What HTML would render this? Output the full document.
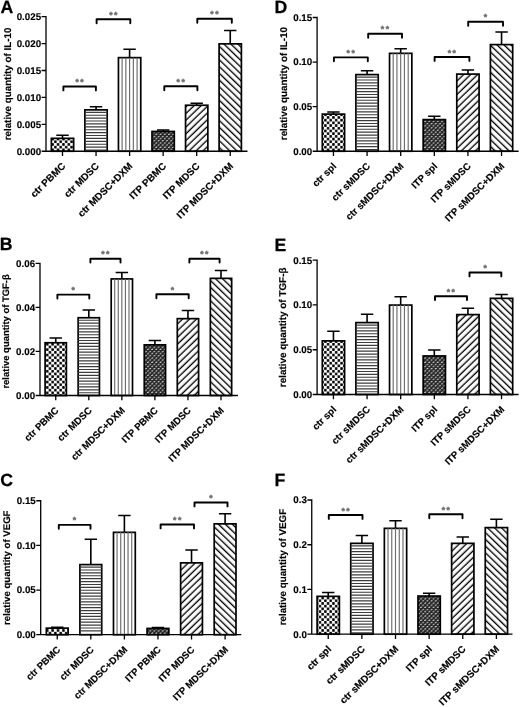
<!DOCTYPE html>
<html lang="en">
<head>
<meta charset="utf-8">
<title>Figure: relative quantity of IL-10, TGF-β and VEGF</title>
<style>
html,body{margin:0;padding:0;background:#fff;}
body{width:520px;height:707px;overflow:hidden;}
svg{display:block;}
text{font-family:"Liberation Sans",Arial,Helvetica,sans-serif;font-weight:bold;fill:#000;stroke:#000;stroke-width:0.15px;text-rendering:geometricPrecision;}
.t{font-size:9.8px;}
.k{font-size:9.75px;}
.x{font-size:9.9px;}
.L{font-size:17.7px;stroke-width:0.25px;}
.s{font-size:8.6px;fill:#707070;stroke:#707070;stroke-width:0.45px;letter-spacing:1.5px;}
.ax{stroke:#000;stroke-width:1.3;fill:none;stroke-linecap:butt;}
.bar{stroke:#000;stroke-width:1.7;}
.er{stroke:#000;stroke-width:1.6;fill:none;}
.bk{stroke:#000;stroke-width:1.9;fill:none;stroke-linejoin:round;stroke-linecap:round;}
</style>
</head>
<body>
<svg width="520" height="707" viewBox="0 0 520 707">
<defs>
<pattern id="checker" patternUnits="userSpaceOnUse" width="5.4" height="5.4"><rect width="5.4" height="5.4" fill="#fff"/><rect x="0.1" y="0.1" width="2.5" height="2.5" rx="0.55" fill="#000"/><rect x="2.8" y="2.8" width="2.5" height="2.5" rx="0.55" fill="#000"/></pattern>
<pattern id="dense" patternUnits="userSpaceOnUse" width="4.2" height="4.3"><rect width="4.2" height="4.3" fill="#262626"/><path d="M0.55 1.3L1.5 0.8M2.65 3.45L3.6 2.95" stroke="#f2f2f2" stroke-width="0.95" stroke-linecap="round" fill="none"/></pattern>
<pattern id="diagU" patternUnits="userSpaceOnUse" width="8" height="4.85" patternTransform="rotate(-44)"><rect width="8" height="4.85" fill="#fff"/><rect x="0" y="1.6" width="8" height="1.35" fill="#000"/></pattern>
<pattern id="diagD" patternUnits="userSpaceOnUse" width="8" height="4.85" patternTransform="rotate(44)"><rect width="8" height="4.85" fill="#fff"/><rect x="0" y="1.6" width="8" height="1.35" fill="#000"/></pattern>
</defs>
<rect width="520" height="707" fill="#fff"/>
<g id="panel-A">
<text class="L" x="0.6" y="13.4">A</text>
<text class="t" style="font-size:9.8px" text-anchor="middle" transform="translate(11 83.97) rotate(-90) scale(1.0 1)">relative quantity of IL-10</text>
<path class="er" d="M62.5 138.35 V135.2 M56.3 135.2 H68.7"/>
<rect class="bar" x="51.35" y="138.35" width="22.3" height="12.9" fill="url(#checker)"/>
<path class="er" d="M96.05 109.85 V106.7 M89.85 106.7 H102.25"/>
<rect class="bar" x="84.9" y="109.85" width="22.3" height="41.4" fill="#fff"/>
<path d="M84.9 112.3H107.2M84.9 115.2H107.2M84.9 118.1H107.2M84.9 121H107.2M84.9 123.9H107.2M84.9 126.8H107.2M84.9 129.7H107.2M84.9 132.6H107.2M84.9 135.5H107.2M84.9 138.4H107.2M84.9 141.3H107.2M84.9 144.2H107.2M84.9 147.1H107.2M84.9 150H107.2" stroke="#3c3c3c" stroke-width="1.15" fill="none"/>
<path class="er" d="M129.6 57.65 V49.2 M123.4 49.2 H135.8"/>
<rect class="bar" x="118.45" y="57.65" width="22.3" height="93.6" fill="#fff"/>
<path d="M122.1 57.65V151.25M125.85 57.65V151.25M129.6 57.65V151.25M133.35 57.65V151.25M137.1 57.65V151.25" stroke="#6c6c6c" stroke-width="1.15" fill="none"/>
<path class="er" d="M163.15 131.45 V130 M156.95 130 H169.35"/>
<rect class="bar" x="152" y="131.45" width="22.3" height="19.8" fill="url(#dense)"/>
<path class="er" d="M196.7 105.25 V103.2 M190.5 103.2 H202.9"/>
<rect class="bar" x="185.55" y="105.25" width="22.3" height="46" fill="url(#diagU)"/>
<path class="er" d="M230.25 43.85 V30.5 M224.05 30.5 H236.45"/>
<rect class="bar" x="219.1" y="43.85" width="22.3" height="107.4" fill="url(#diagD)"/>
<path class="ax" d="M46 16.05 V151.25 H247.5 M46 151.25 h-4.4 M46 124.34 h-4.4 M46 97.43 h-4.4 M46 70.52 h-4.4 M46 43.61 h-4.4 M46 16.7 h-4.4 M62.5 151.25 v4.8 M96.05 151.25 v4.8 M129.6 151.25 v4.8 M163.15 151.25 v4.8 M196.7 151.25 v4.8 M230.25 151.25 v4.8"/>
<text class="k" text-anchor="end" transform="translate(41.1 154.55) scale(1.0 1)">0.000</text>
<text class="k" text-anchor="end" transform="translate(41.1 127.64) scale(1.0 1)">0.005</text>
<text class="k" text-anchor="end" transform="translate(41.1 100.73) scale(1.0 1)">0.010</text>
<text class="k" text-anchor="end" transform="translate(41.1 73.82) scale(1.0 1)">0.015</text>
<text class="k" text-anchor="end" transform="translate(41.1 46.91) scale(1.0 1)">0.020</text>
<text class="k" text-anchor="end" transform="translate(41.1 20) scale(1.0 1)">0.025</text>
<text class="x" style="font-size:9.9px" text-anchor="end" transform="translate(66.1 166.85) rotate(-44.5)">ctr PBMC</text>
<text class="x" style="font-size:9.9px" text-anchor="end" transform="translate(99.65 166.85) rotate(-44.5)">ctr MDSC</text>
<text class="x" style="font-size:9.9px" text-anchor="end" transform="translate(133.2 166.85) rotate(-44.5)">ctr MDSC+DXM</text>
<text class="x" style="font-size:9.9px" text-anchor="end" transform="translate(166.75 166.85) rotate(-44.5)">ITP PBMC</text>
<text class="x" style="font-size:9.9px" text-anchor="end" transform="translate(200.3 166.85) rotate(-44.5)">ITP MDSC</text>
<text class="x" style="font-size:9.9px" text-anchor="end" transform="translate(233.85 166.85) rotate(-44.5)">ITP MDSC+DXM</text>
<path class="bk" d="M63.4 90.4 V86.5 H95.9 V90.4"/>
<text class="s" text-anchor="middle" x="80.25" y="85">**</text>
<path class="bk" d="M96.6 23.2 V19.3 H130.3 V23.2"/>
<text class="s" text-anchor="middle" x="114.05" y="17.8">**</text>
<path class="bk" d="M164.3 90.2 V86.3 H197.4 V90.2"/>
<text class="s" text-anchor="middle" x="181.45" y="84.8">**</text>
<path class="bk" d="M197.3 22.7 V18.8 H231.8 V22.7"/>
<text class="s" text-anchor="middle" x="215.15" y="17.3">**</text>
</g>
<g id="panel-B">
<text class="L" x="-0.3" y="250.4">B</text>
<text class="t" style="font-size:9.45px" text-anchor="middle" transform="translate(9.3 331.4) rotate(-90) scale(1.0 1)">relative quantity of TGF-β</text>
<path class="er" d="M55.75 342.75 V338 M49.55 338 H61.95"/>
<rect class="bar" x="45.1" y="342.75" width="21.3" height="52.75" fill="url(#checker)"/>
<path class="er" d="M88.8 317.75 V310 M82.6 310 H95"/>
<rect class="bar" x="78.15" y="317.75" width="21.3" height="77.75" fill="#fff"/>
<path d="M78.15 320.2H99.45M78.15 323.1H99.45M78.15 326H99.45M78.15 328.9H99.45M78.15 331.8H99.45M78.15 334.7H99.45M78.15 337.6H99.45M78.15 340.5H99.45M78.15 343.4H99.45M78.15 346.3H99.45M78.15 349.2H99.45M78.15 352.1H99.45M78.15 355H99.45M78.15 357.9H99.45M78.15 360.8H99.45M78.15 363.7H99.45M78.15 366.6H99.45M78.15 369.5H99.45M78.15 372.4H99.45M78.15 375.3H99.45M78.15 378.2H99.45M78.15 381.1H99.45M78.15 384H99.45M78.15 386.9H99.45M78.15 389.8H99.45M78.15 392.7H99.45" stroke="#3c3c3c" stroke-width="1.15" fill="none"/>
<path class="er" d="M121.85 278.95 V272.5 M115.65 272.5 H128.05"/>
<rect class="bar" x="111.2" y="278.95" width="21.3" height="116.55" fill="#fff"/>
<path d="M114.69 278.95V395.5M118.27 278.95V395.5M121.85 278.95V395.5M125.43 278.95V395.5M129.01 278.95V395.5" stroke="#6c6c6c" stroke-width="1.15" fill="none"/>
<path class="er" d="M154.9 344.85 V340.5 M148.7 340.5 H161.1"/>
<rect class="bar" x="144.25" y="344.85" width="21.3" height="50.65" fill="url(#dense)"/>
<path class="er" d="M187.95 318.65 V310.5 M181.75 310.5 H194.15"/>
<rect class="bar" x="177.3" y="318.65" width="21.3" height="76.85" fill="url(#diagU)"/>
<path class="er" d="M221 278.35 V270.5 M214.8 270.5 H227.2"/>
<rect class="bar" x="210.35" y="278.35" width="21.3" height="117.15" fill="url(#diagD)"/>
<path class="ax" d="M40 262.65 V395.5 H238 M40 395.5 h-4.4 M40 351.43 h-4.4 M40 307.37 h-4.4 M40 263.3 h-4.4 M55.75 395.5 v4.8 M88.8 395.5 v4.8 M121.85 395.5 v4.8 M154.9 395.5 v4.8 M187.95 395.5 v4.8 M221 395.5 v4.8"/>
<text class="k" text-anchor="end" transform="translate(35.1 398.8) scale(1.0 1)">0.00</text>
<text class="k" text-anchor="end" transform="translate(35.1 354.73) scale(1.0 1)">0.02</text>
<text class="k" text-anchor="end" transform="translate(35.1 310.67) scale(1.0 1)">0.04</text>
<text class="k" text-anchor="end" transform="translate(35.1 266.6) scale(1.0 1)">0.06</text>
<text class="x" style="font-size:9.7px" text-anchor="end" transform="translate(59.35 411.1) rotate(-44.5)">ctr PBMC</text>
<text class="x" style="font-size:9.7px" text-anchor="end" transform="translate(92.4 411.1) rotate(-44.5)">ctr MDSC</text>
<text class="x" style="font-size:9.7px" text-anchor="end" transform="translate(125.45 411.1) rotate(-44.5)">ctr MDSC+DXM</text>
<text class="x" style="font-size:9.7px" text-anchor="end" transform="translate(158.5 411.1) rotate(-44.5)">ITP PBMC</text>
<text class="x" style="font-size:9.7px" text-anchor="end" transform="translate(191.55 411.1) rotate(-44.5)">ITP MDSC</text>
<text class="x" style="font-size:9.7px" text-anchor="end" transform="translate(224.6 411.1) rotate(-44.5)">ITP MDSC+DXM</text>
<path class="bk" d="M57.4 298.5 V294.6 H89.3 V298.5"/>
<text class="s" text-anchor="middle" x="73.95" y="293.1">*</text>
<path class="bk" d="M90.4 262.6 V258.7 H120.5 V262.6"/>
<text class="s" text-anchor="middle" x="106.05" y="257.2">**</text>
<path class="bk" d="M156.4 298.2 V294.3 H188.7 V298.2"/>
<text class="s" text-anchor="middle" x="173.15" y="292.8">*</text>
<path class="bk" d="M189.4 262.6 V258.7 H219.6 V262.6"/>
<text class="s" text-anchor="middle" x="205.1" y="257.2">**</text>
</g>
<g id="panel-C">
<text class="L" x="0.3" y="485.6">C</text>
<text class="t" style="font-size:9.65px" text-anchor="middle" transform="translate(10.1 567.73) rotate(-90) scale(1.0 1)">relative quantity of VEGF</text>
<path class="er" d="M57.25 628.15 V627.3 M51.05 627.3 H63.45"/>
<rect class="bar" x="46.35" y="628.15" width="21.8" height="6.55" fill="url(#checker)"/>
<path class="er" d="M90.82 564.6 V539.25 M84.62 539.25 H97.02"/>
<rect class="bar" x="79.92" y="564.6" width="21.8" height="70.1" fill="#fff"/>
<path d="M79.92 567.05H101.72M79.92 569.95H101.72M79.92 572.85H101.72M79.92 575.75H101.72M79.92 578.65H101.72M79.92 581.55H101.72M79.92 584.45H101.72M79.92 587.35H101.72M79.92 590.25H101.72M79.92 593.15H101.72M79.92 596.05H101.72M79.92 598.95H101.72M79.92 601.85H101.72M79.92 604.75H101.72M79.92 607.65H101.72M79.92 610.55H101.72M79.92 613.45H101.72M79.92 616.35H101.72M79.92 619.25H101.72M79.92 622.15H101.72M79.92 625.05H101.72M79.92 627.95H101.72M79.92 630.85H101.72" stroke="#3c3c3c" stroke-width="1.15" fill="none"/>
<path class="er" d="M124.39 532.35 V515.5 M118.19 515.5 H130.59"/>
<rect class="bar" x="113.49" y="532.35" width="21.8" height="102.35" fill="#fff"/>
<path d="M117.06 532.35V634.7M120.73 532.35V634.7M124.39 532.35V634.7M128.05 532.35V634.7M131.72 532.35V634.7" stroke="#6c6c6c" stroke-width="1.15" fill="none"/>
<path class="er" d="M157.96 628.45 V627.6 M151.76 627.6 H164.16"/>
<rect class="bar" x="147.06" y="628.45" width="21.8" height="6.25" fill="url(#dense)"/>
<path class="er" d="M191.53 562.85 V550 M185.33 550 H197.73"/>
<rect class="bar" x="180.63" y="562.85" width="21.8" height="71.85" fill="url(#diagU)"/>
<path class="er" d="M225.1 523.85 V513.75 M218.9 513.75 H231.3"/>
<rect class="bar" x="214.2" y="523.85" width="21.8" height="110.85" fill="url(#diagD)"/>
<path class="ax" d="M40.7 500.1 V634.7 H241.25 M40.7 634.7 h-4.4 M40.7 590.05 h-4.4 M40.7 545.4 h-4.4 M40.7 500.75 h-4.4 M57.25 634.7 v4.8 M90.82 634.7 v4.8 M124.39 634.7 v4.8 M157.96 634.7 v4.8 M191.53 634.7 v4.8 M225.1 634.7 v4.8"/>
<text class="k" text-anchor="end" transform="translate(35.8 638) scale(1.0 1)">0.00</text>
<text class="k" text-anchor="end" transform="translate(35.8 593.35) scale(1.0 1)">0.05</text>
<text class="k" text-anchor="end" transform="translate(35.8 548.7) scale(1.0 1)">0.10</text>
<text class="k" text-anchor="end" transform="translate(35.8 504.05) scale(1.0 1)">0.15</text>
<text class="x" style="font-size:9.65px" text-anchor="end" transform="translate(60.85 650.3) rotate(-44.5)">ctr PBMC</text>
<text class="x" style="font-size:9.65px" text-anchor="end" transform="translate(94.42 650.3) rotate(-44.5)">ctr MDSC</text>
<text class="x" style="font-size:9.65px" text-anchor="end" transform="translate(127.99 650.3) rotate(-44.5)">ctr MDSC+DXM</text>
<text class="x" style="font-size:9.65px" text-anchor="end" transform="translate(161.56 650.3) rotate(-44.5)">ITP PBMC</text>
<text class="x" style="font-size:9.65px" text-anchor="end" transform="translate(195.13 650.3) rotate(-44.5)">ITP MDSC</text>
<text class="x" style="font-size:9.65px" text-anchor="end" transform="translate(228.7 650.3) rotate(-44.5)">ITP MDSC+DXM</text>
<path class="bk" d="M58.8 528.8 V524.9 H90.5 V528.8"/>
<text class="s" text-anchor="middle" x="75.25" y="523.4">*</text>
<path class="bk" d="M160.6 528.4 V524.5 H194 V528.4"/>
<text class="s" text-anchor="middle" x="177.9" y="523">**</text>
<path class="bk" d="M194.5 506.4 V502.5 H227.5 V506.4"/>
<text class="s" text-anchor="middle" x="211.6" y="501">*</text>
</g>
<g id="panel-D">
<text class="L" x="274.5" y="13.45">D</text>
<text class="t" style="font-size:9.85px" text-anchor="middle" transform="translate(287.2 83.58) rotate(-90) scale(1.0 1)">relative quantity of IL-10</text>
<path class="er" d="M333.45 114.1 V112 M327.25 112 H339.65"/>
<rect class="bar" x="322.3" y="114.1" width="22.3" height="37.15" fill="url(#checker)"/>
<path class="er" d="M367.07 74.6 V70.75 M360.87 70.75 H373.27"/>
<rect class="bar" x="355.92" y="74.6" width="22.3" height="76.65" fill="#fff"/>
<path d="M355.92 77.05H378.22M355.92 79.95H378.22M355.92 82.85H378.22M355.92 85.75H378.22M355.92 88.65H378.22M355.92 91.55H378.22M355.92 94.45H378.22M355.92 97.35H378.22M355.92 100.25H378.22M355.92 103.15H378.22M355.92 106.05H378.22M355.92 108.95H378.22M355.92 111.85H378.22M355.92 114.75H378.22M355.92 117.65H378.22M355.92 120.55H378.22M355.92 123.45H378.22M355.92 126.35H378.22M355.92 129.25H378.22M355.92 132.15H378.22M355.92 135.05H378.22M355.92 137.95H378.22M355.92 140.85H378.22M355.92 143.75H378.22M355.92 146.65H378.22M355.92 149.55H378.22" stroke="#3c3c3c" stroke-width="1.15" fill="none"/>
<path class="er" d="M400.69 53.35 V48.75 M394.49 48.75 H406.89"/>
<rect class="bar" x="389.54" y="53.35" width="22.3" height="97.9" fill="#fff"/>
<path d="M393.19 53.35V151.25M396.94 53.35V151.25M400.69 53.35V151.25M404.44 53.35V151.25M408.19 53.35V151.25" stroke="#6c6c6c" stroke-width="1.15" fill="none"/>
<path class="er" d="M434.31 119.6 V116.25 M428.11 116.25 H440.51"/>
<rect class="bar" x="423.16" y="119.6" width="22.3" height="31.65" fill="url(#dense)"/>
<path class="er" d="M467.93 74.1 V70 M461.73 70 H474.13"/>
<rect class="bar" x="456.78" y="74.1" width="22.3" height="77.15" fill="url(#diagU)"/>
<path class="er" d="M501.55 44.6 V32 M495.35 32 H507.75"/>
<rect class="bar" x="490.4" y="44.6" width="22.3" height="106.65" fill="url(#diagD)"/>
<path class="ax" d="M317.1 16.85 V151.25 H518.6 M317.1 151.25 h-4.4 M317.1 106.67 h-4.4 M317.1 62.08 h-4.4 M317.1 17.5 h-4.4 M333.45 151.25 v4.8 M367.07 151.25 v4.8 M400.69 151.25 v4.8 M434.31 151.25 v4.8 M467.93 151.25 v4.8 M501.55 151.25 v4.8"/>
<text class="k" text-anchor="end" transform="translate(312.2 154.55) scale(1.0 1)">0.00</text>
<text class="k" text-anchor="end" transform="translate(312.2 109.97) scale(1.0 1)">0.05</text>
<text class="k" text-anchor="end" transform="translate(312.2 65.38) scale(1.0 1)">0.10</text>
<text class="k" text-anchor="end" transform="translate(312.2 20.8) scale(1.0 1)">0.15</text>
<text class="x" style="font-size:9.75px" text-anchor="end" transform="translate(337.05 166.85) rotate(-44.5)">ctr spl</text>
<text class="x" style="font-size:9.75px" text-anchor="end" transform="translate(370.67 166.85) rotate(-44.5)">ctr sMDSC</text>
<text class="x" style="font-size:9.75px" text-anchor="end" transform="translate(404.29 166.85) rotate(-44.5)">ctr sMDSC+DXM</text>
<text class="x" style="font-size:9.75px" text-anchor="end" transform="translate(437.91 166.85) rotate(-44.5)">ITP spl</text>
<text class="x" style="font-size:9.75px" text-anchor="end" transform="translate(471.53 166.85) rotate(-44.5)">ITP sMDSC</text>
<text class="x" style="font-size:9.75px" text-anchor="end" transform="translate(505.15 166.85) rotate(-44.5)">ITP sMDSC+DXM</text>
<path class="bk" d="M333.9 61.3 V57.4 H367.8 V61.3"/>
<text class="s" text-anchor="middle" x="351.45" y="55.9">**</text>
<path class="bk" d="M368.2 37.7 V33.8 H402 V37.7"/>
<text class="s" text-anchor="middle" x="385.7" y="32.3">**</text>
<path class="bk" d="M434.6 60.9 V57 H469.4 V60.9"/>
<text class="s" text-anchor="middle" x="452.6" y="55.5">**</text>
<path class="bk" d="M468.2 25.7 V21.8 H503 V25.7"/>
<text class="s" text-anchor="middle" x="486.2" y="20.3">*</text>
</g>
<g id="panel-E">
<text class="L" x="274.6" y="251">E</text>
<text class="t" style="font-size:9.9px" text-anchor="middle" transform="translate(286.3 327.35) rotate(-90) scale(1.0 1)">relative quantity of TGF-β</text>
<path class="er" d="M333.45 340.85 V331.25 M327.25 331.25 H339.65"/>
<rect class="bar" x="322.3" y="340.85" width="22.3" height="53.65" fill="url(#checker)"/>
<path class="er" d="M367.07 322.6 V314.25 M360.87 314.25 H373.27"/>
<rect class="bar" x="355.92" y="322.6" width="22.3" height="71.9" fill="#fff"/>
<path d="M355.92 325.05H378.22M355.92 327.95H378.22M355.92 330.85H378.22M355.92 333.75H378.22M355.92 336.65H378.22M355.92 339.55H378.22M355.92 342.45H378.22M355.92 345.35H378.22M355.92 348.25H378.22M355.92 351.15H378.22M355.92 354.05H378.22M355.92 356.95H378.22M355.92 359.85H378.22M355.92 362.75H378.22M355.92 365.65H378.22M355.92 368.55H378.22M355.92 371.45H378.22M355.92 374.35H378.22M355.92 377.25H378.22M355.92 380.15H378.22M355.92 383.05H378.22M355.92 385.95H378.22M355.92 388.85H378.22M355.92 391.75H378.22" stroke="#3c3c3c" stroke-width="1.15" fill="none"/>
<path class="er" d="M400.69 305.1 V296.75 M394.49 296.75 H406.89"/>
<rect class="bar" x="389.54" y="305.1" width="22.3" height="89.4" fill="#fff"/>
<path d="M393.19 305.1V394.5M396.94 305.1V394.5M400.69 305.1V394.5M404.44 305.1V394.5M408.19 305.1V394.5" stroke="#6c6c6c" stroke-width="1.15" fill="none"/>
<path class="er" d="M434.31 355.95 V350 M428.11 350 H440.51"/>
<rect class="bar" x="423.16" y="355.95" width="22.3" height="38.55" fill="url(#dense)"/>
<path class="er" d="M467.93 314.6 V308.25 M461.73 308.25 H474.13"/>
<rect class="bar" x="456.78" y="314.6" width="22.3" height="79.9" fill="url(#diagU)"/>
<path class="er" d="M501.55 298.35 V294.5 M495.35 294.5 H507.75"/>
<rect class="bar" x="490.4" y="298.35" width="22.3" height="96.15" fill="url(#diagD)"/>
<path class="ax" d="M317.1 259.55 V394.5 H518.6 M317.1 394.5 h-4.4 M317.1 349.73 h-4.4 M317.1 304.97 h-4.4 M317.1 260.2 h-4.4 M333.45 394.5 v4.8 M367.07 394.5 v4.8 M400.69 394.5 v4.8 M434.31 394.5 v4.8 M467.93 394.5 v4.8 M501.55 394.5 v4.8"/>
<text class="k" text-anchor="end" transform="translate(312.2 397.8) scale(1.0 1)">0.00</text>
<text class="k" text-anchor="end" transform="translate(312.2 353.03) scale(1.0 1)">0.05</text>
<text class="k" text-anchor="end" transform="translate(312.2 308.27) scale(1.0 1)">0.10</text>
<text class="k" text-anchor="end" transform="translate(312.2 263.5) scale(1.0 1)">0.15</text>
<text class="x" style="font-size:9.75px" text-anchor="end" transform="translate(337.05 410.1) rotate(-44.5)">ctr spl</text>
<text class="x" style="font-size:9.75px" text-anchor="end" transform="translate(370.67 410.1) rotate(-44.5)">ctr sMDSC</text>
<text class="x" style="font-size:9.75px" text-anchor="end" transform="translate(404.29 410.1) rotate(-44.5)">ctr sMDSC+DXM</text>
<text class="x" style="font-size:9.75px" text-anchor="end" transform="translate(437.91 410.1) rotate(-44.5)">ITP spl</text>
<text class="x" style="font-size:9.75px" text-anchor="end" transform="translate(471.53 410.1) rotate(-44.5)">ITP sMDSC</text>
<text class="x" style="font-size:9.75px" text-anchor="end" transform="translate(505.15 410.1) rotate(-44.5)">ITP sMDSC+DXM</text>
<path class="bk" d="M435 300.1 V296.2 H467 V300.1"/>
<text class="s" text-anchor="middle" x="451.6" y="294.7">**</text>
<path class="bk" d="M469.5 276.4 V272.5 H501.3 V276.4"/>
<text class="s" text-anchor="middle" x="486" y="271">*</text>
</g>
<g id="panel-F">
<text class="L" x="274.5" y="485.6">F</text>
<text class="t" style="font-size:9.8px" text-anchor="middle" transform="translate(286 567.1) rotate(-90) scale(1.0 1)">relative quantity of VEGF</text>
<path class="er" d="M328.25 596.35 V592.5 M322.05 592.5 H334.45"/>
<rect class="bar" x="317.1" y="596.35" width="22.3" height="37.85" fill="url(#checker)"/>
<path class="er" d="M361.88 543.35 V535.5 M355.68 535.5 H368.08"/>
<rect class="bar" x="350.73" y="543.35" width="22.3" height="90.85" fill="#fff"/>
<path d="M350.73 545.8H373.03M350.73 548.7H373.03M350.73 551.6H373.03M350.73 554.5H373.03M350.73 557.4H373.03M350.73 560.3H373.03M350.73 563.2H373.03M350.73 566.1H373.03M350.73 569H373.03M350.73 571.9H373.03M350.73 574.8H373.03M350.73 577.7H373.03M350.73 580.6H373.03M350.73 583.5H373.03M350.73 586.4H373.03M350.73 589.3H373.03M350.73 592.2H373.03M350.73 595.1H373.03M350.73 598H373.03M350.73 600.9H373.03M350.73 603.8H373.03M350.73 606.7H373.03M350.73 609.6H373.03M350.73 612.5H373.03M350.73 615.4H373.03M350.73 618.3H373.03M350.73 621.2H373.03M350.73 624.1H373.03M350.73 627H373.03M350.73 629.9H373.03M350.73 632.8H373.03" stroke="#3c3c3c" stroke-width="1.15" fill="none"/>
<path class="er" d="M395.51 528.35 V520.75 M389.31 520.75 H401.71"/>
<rect class="bar" x="384.36" y="528.35" width="22.3" height="105.85" fill="#fff"/>
<path d="M388.01 528.35V634.2M391.76 528.35V634.2M395.51 528.35V634.2M399.26 528.35V634.2M403.01 528.35V634.2" stroke="#6c6c6c" stroke-width="1.15" fill="none"/>
<path class="er" d="M429.14 596.05 V593.2 M422.94 593.2 H435.34"/>
<rect class="bar" x="417.99" y="596.05" width="22.3" height="38.15" fill="url(#dense)"/>
<path class="er" d="M462.77 543.35 V537 M456.57 537 H468.97"/>
<rect class="bar" x="451.62" y="543.35" width="22.3" height="90.85" fill="url(#diagU)"/>
<path class="er" d="M496.4 527.6 V519.25 M490.2 519.25 H502.6"/>
<rect class="bar" x="485.25" y="527.6" width="22.3" height="106.6" fill="url(#diagD)"/>
<path class="ax" d="M311.75 499.35 V634.2 H512.5 M311.75 634.2 h-4.4 M311.75 589.47 h-4.4 M311.75 544.73 h-4.4 M311.75 500 h-4.4 M328.25 634.2 v4.8 M361.88 634.2 v4.8 M395.51 634.2 v4.8 M429.14 634.2 v4.8 M462.77 634.2 v4.8 M496.4 634.2 v4.8"/>
<text class="k" text-anchor="end" transform="translate(306.85 637.5) scale(1.0 1)">0.0</text>
<text class="k" text-anchor="end" transform="translate(306.85 592.77) scale(1.0 1)">0.1</text>
<text class="k" text-anchor="end" transform="translate(306.85 548.03) scale(1.0 1)">0.2</text>
<text class="k" text-anchor="end" transform="translate(306.85 503.3) scale(1.0 1)">0.3</text>
<text class="x" style="font-size:9.9px" text-anchor="end" transform="translate(331.85 649.8) rotate(-44.5)">ctr spl</text>
<text class="x" style="font-size:9.9px" text-anchor="end" transform="translate(365.48 649.8) rotate(-44.5)">ctr sMDSC</text>
<text class="x" style="font-size:9.9px" text-anchor="end" transform="translate(399.11 649.8) rotate(-44.5)">ctr sMDSC+DXM</text>
<text class="x" style="font-size:9.9px" text-anchor="end" transform="translate(432.74 649.8) rotate(-44.5)">ITP spl</text>
<text class="x" style="font-size:9.9px" text-anchor="end" transform="translate(466.37 649.8) rotate(-44.5)">ITP sMDSC</text>
<text class="x" style="font-size:9.9px" text-anchor="end" transform="translate(500 649.8) rotate(-44.5)">ITP sMDSC+DXM</text>
<path class="bk" d="M328.8 518.9 V515 H362.5 V518.9"/>
<text class="s" text-anchor="middle" x="346.25" y="513.5">**</text>
<path class="bk" d="M429.3 518.2 V514.3 H462.5 V518.2"/>
<text class="s" text-anchor="middle" x="446.5" y="512.8">**</text>
</g>
</svg>
</body>
</html>
